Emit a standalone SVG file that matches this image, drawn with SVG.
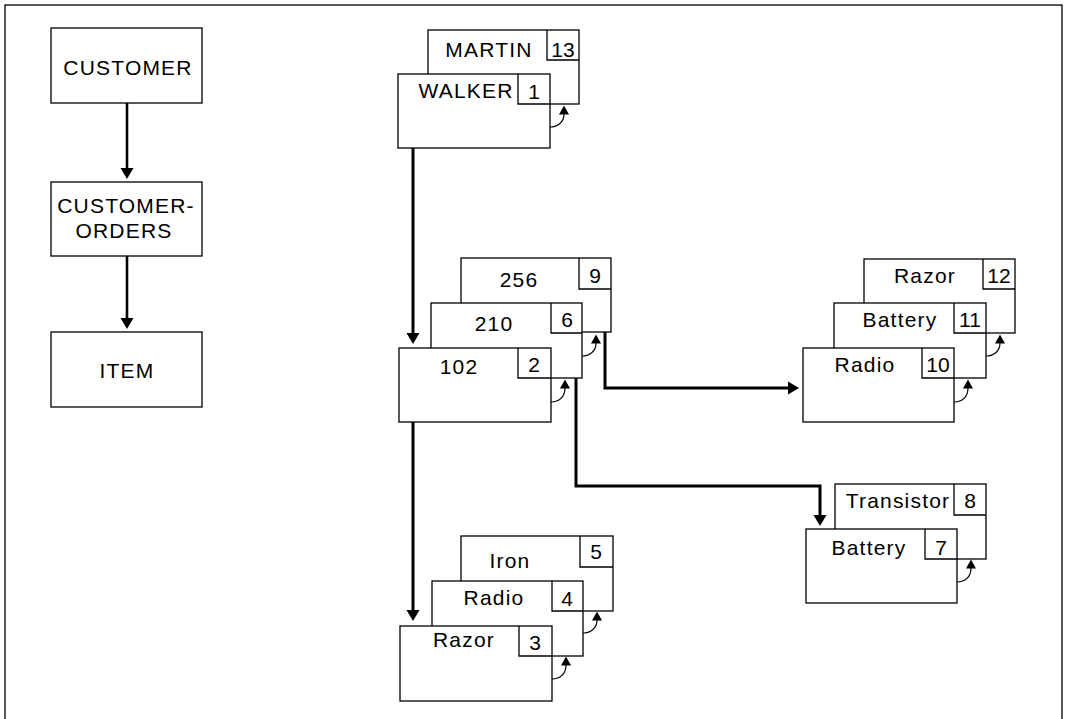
<svg xmlns="http://www.w3.org/2000/svg" width="1067" height="719" viewBox="0 0 1067 719">
<style>
  .box { fill: #fff; stroke: #000; stroke-width: 1.3; }
  .nb { fill: none; stroke: #000; stroke-width: 1.3; }
  .t { font-family: "Liberation Sans", Arial, sans-serif; font-size: 21px; fill: #000; text-anchor: middle; letter-spacing: 1.2px; }
  .n { font-family: "Liberation Sans", Arial, sans-serif; font-size: 21px; fill: #000; text-anchor: middle; }
  .conn { fill: none; stroke: #000; stroke-width: 3; }
  .connL { fill: none; stroke: #000; stroke-width: 2.6; }
  .curl { fill: none; stroke: #000; stroke-width: 1.2; }
</style>
<defs>
  <marker id="big" markerUnits="userSpaceOnUse" markerWidth="12" markerHeight="14" viewBox="0 0 12 14" refX="1" refY="7" orient="auto">
    <path d="M0,0.5 L11,7 L0,13.5 z" fill="#000"/>
  </marker>
  <marker id="small" markerUnits="userSpaceOnUse" markerWidth="10" markerHeight="11" viewBox="0 0 10 11" refX="0.5" refY="5.5" orient="auto">
    <path d="M0,0.5 L9,5.5 L0,10.5 z" fill="#000"/>
  </marker>
</defs>
<rect x="0" y="0" width="1067" height="719" fill="#fff"/>
<rect x="5" y="5" width="1057" height="720" fill="none" stroke="#000" stroke-width="1.3"/>

<g id="customer">
  <rect class="box" x="51" y="28" width="151" height="75"/>
  <text class="t" x="128" y="75">CUSTOMER</text>
</g>
<g id="customer-orders">
  <rect class="box" x="51" y="182" width="151" height="74"/>
  <text class="t" x="126" y="213">CUSTOMER-</text>
  <text class="t" x="124" y="238">ORDERS</text>
</g>
<g id="item">
  <rect class="box" x="51" y="332" width="151" height="75"/>
  <text class="t" x="127" y="378">ITEM</text>
</g>

<!-- Customer stack -->
<g id="martin">
  <rect class="box" x="428" y="30" width="151" height="74"/>
  <path class="nb" d="M547,30 V60 H579"/>
  <text class="t" x="489" y="57">MARTIN</text>
  <text class="n" x="563" y="57">13</text>
</g>
<g id="walker">
  <rect class="box" x="398" y="74" width="152" height="74"/>
  <path class="nb" d="M518,74 V104 H550"/>
  <text class="t" x="466" y="98">WALKER</text>
  <text class="n" x="534" y="99">1</text>
  <path class="curl" d="M550,127 C558,127 564,122 564,114" marker-end="url(#small)"/>
</g>

<!-- Order stack -->
<g id="order-256">
  <rect class="box" x="461" y="258" width="150" height="74"/>
  <path class="nb" d="M579,258 V289 H611"/>
  <text class="t" x="519" y="287">256</text>
  <text class="n" x="595" y="283">9</text>
</g>
<g id="order-210">
  <rect class="box" x="431" y="303" width="151" height="75"/>
  <path class="nb" d="M551,303 V333 H582"/>
  <text class="t" x="494" y="331">210</text>
  <text class="n" x="567" y="327">6</text>
  <path class="curl" d="M582,356 C590,356 596,351 596,343" marker-end="url(#small)"/>
</g>
<g id="order-102">
  <rect class="box" x="399" y="348" width="152" height="74"/>
  <path class="nb" d="M518,348 V378 H551"/>
  <text class="t" x="459" y="374">102</text>
  <text class="n" x="534" y="372">2</text>
  <path class="curl" d="M551,402 C559,402 565,397 565,388" marker-end="url(#small)"/>
</g>

<!-- Items of order 256 -->
<g id="item-razor-12">
  <rect class="box" x="864" y="259" width="151" height="74"/>
  <path class="nb" d="M983,259 V289 H1015"/>
  <text class="t" x="925" y="283">Razor</text>
  <text class="n" x="999" y="283">12</text>
</g>
<g id="item-battery-11">
  <rect class="box" x="834" y="303" width="152" height="75"/>
  <path class="nb" d="M954,303 V333 H986"/>
  <text class="t" x="900" y="327">Battery</text>
  <text class="n" x="970" y="327">11</text>
  <path class="curl" d="M986,356 C994,356 1000,351 1000,343" marker-end="url(#small)"/>
</g>
<g id="item-radio-10">
  <rect class="box" x="803" y="348" width="151" height="74"/>
  <path class="nb" d="M922,348 V378 H954"/>
  <text class="t" x="865" y="372">Radio</text>
  <text class="n" x="938" y="372">10</text>
  <path class="curl" d="M954,402 C962,402 968,397 968,388" marker-end="url(#small)"/>
</g>

<!-- Items of order 210 -->
<g id="item-transistor-8">
  <rect class="box" x="835" y="484" width="151" height="75"/>
  <path class="nb" d="M954,484 V515 H986"/>
  <text class="t" x="898" y="508">Transistor</text>
  <text class="n" x="970" y="508">8</text>
</g>
<g id="item-battery-7">
  <rect class="box" x="806" y="529" width="151" height="74"/>
  <path class="nb" d="M925,529 V559 H957"/>
  <text class="t" x="869" y="555">Battery</text>
  <text class="n" x="941" y="555">7</text>
  <path class="curl" d="M957,582 C965,582 971,577 971,568" marker-end="url(#small)"/>
</g>

<!-- Items of order 102 -->
<g id="item-iron-5">
  <rect class="box" x="461" y="536" width="152" height="75"/>
  <path class="nb" d="M580,536 V567 H613"/>
  <text class="t" x="510" y="568">Iron</text>
  <text class="n" x="596" y="559">5</text>
</g>
<g id="item-radio-4">
  <rect class="box" x="432" y="581" width="151" height="75"/>
  <path class="nb" d="M552,581 V611 H583"/>
  <text class="t" x="494" y="605">Radio</text>
  <text class="n" x="567" y="606">4</text>
  <path class="curl" d="M583,633 C591,633 597,628 597,620" marker-end="url(#small)"/>
</g>
<g id="item-razor-3">
  <rect class="box" x="400" y="626" width="152" height="75"/>
  <path class="nb" d="M519,626 V656 H552"/>
  <text class="t" x="464" y="647">Razor</text>
  <text class="n" x="535" y="650">3</text>
  <path class="curl" d="M552,679 C560,679 566,674 566,665" marker-end="url(#small)"/>
</g>

<g id="connectors">
  <path class="connL" d="M127,103 V169" marker-end="url(#big)"/>
  <path class="connL" d="M127,256 V319" marker-end="url(#big)"/>
  <path class="conn" d="M413,148 V334" marker-end="url(#big)"/>
  <path class="conn" d="M413,422 V611" marker-end="url(#big)"/>
  <path class="conn" d="M576,378 V486 H820 V516" marker-end="url(#big)"/>
  <path class="conn" d="M605,332 V388 H789" marker-end="url(#big)"/>
</g>
</svg>
